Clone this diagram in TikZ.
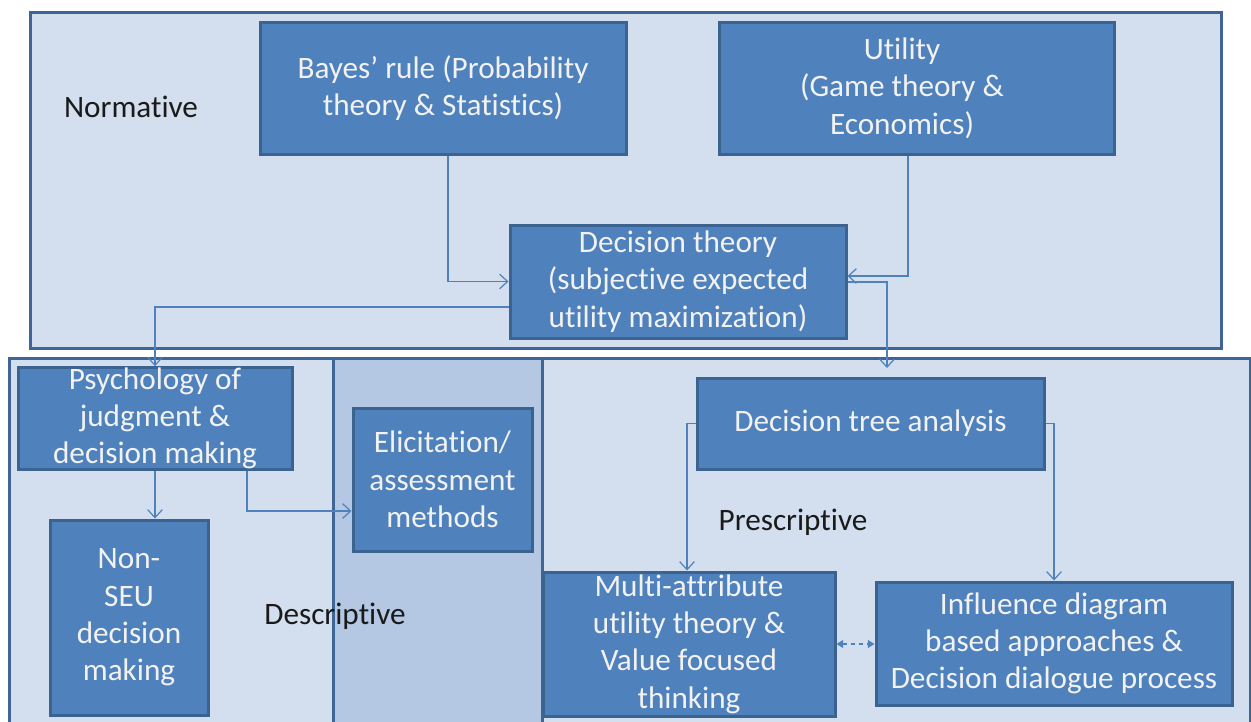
\documentclass[tikz,border=0pt]{standalone}
\usepackage{fontspec}
\setmainfont{Carlito}[Ligatures=NoCommon]
\usetikzlibrary{arrows.meta}
\definecolor{boxfill}{HTML}{4F81BD}
\definecolor{boxedge}{HTML}{3B6390}
\definecolor{panelfill}{HTML}{D3DFEE}
\definecolor{paneledge}{HTML}{3F6596}
\definecolor{colfill}{HTML}{B4C8E3}
\definecolor{linkc}{HTML}{4F81BD}
\definecolor{boxtext}{HTML}{F2F2F2}
\definecolor{lbltext}{HTML}{1A1A1A}
\begin{document}
\begin{tikzpicture}[x=0.75pt,y=-0.75pt,
  bigfont/.style={font=\fontsize{23.4}{28}\selectfont},
  box/.style={draw=boxedge,fill=boxfill,line width=2.25pt,text=boxtext,bigfont,align=center,inner sep=0pt},
  panel/.style={draw=paneledge,fill=panelfill,line width=2.25pt},
  colpanel/.style={draw=paneledge,fill=colfill,line width=2.25pt},
  lbl/.style={text=lbltext,bigfont,inner sep=0pt},
  link/.style={draw=linkc,line width=0.9pt,-{Straight Barb[length=6pt,width=11pt]}},
  dlink/.style={draw=linkc,line width=0.9pt,dash pattern=on 3pt off 3pt,{Triangle[length=5pt,width=6pt]}-{Triangle[length=5pt,width=6pt]}},
]
\useasboundingbox (0,0) rectangle (1251,721);
\clip (0,0) rectangle (1251,721);
\fill[white] (0,0) rectangle (1251,721);

% panels
\draw[panel] (30,12) rectangle (1221,348);
\draw[panel] (9,358) rectangle (1250,760);
\draw[colpanel] (333,358) rectangle (542,760);

% section labels
\node[lbl] (normlbl) at (131,107) {Normative};
\node[lbl] (desclbl) at (335,616) {Descriptive};
\node[lbl] (preslbl) at (793,522) {Prescriptive};

% boxes
\node[box,minimum width=274.5pt,minimum height=99pt] (bayes) at (443,88)
  {Bayes’ rule (Probability\\theory \& Statistics)};
\node[box,minimum width=296.25pt,minimum height=99pt] (util) at (916.5,88) {};
\node[text=boxtext,bigfont,align=center,inner sep=0pt] (utiltext) at (902,88)
  {Utility\\(Game theory \&\\Economics)};
\node[box,minimum width=252pt,minimum height=84.75pt] (dt) at (678,281.5)
  {Decision theory\\(subjective expected\\utility maximization)};
\node[box,minimum width=205.5pt,minimum height=75.75pt] (psych) at (155,418.5)
  {Psychology of\\judgment \&\\decision making};
\node[box,minimum width=134.25pt,minimum height=107.25pt] (elic) at (442.5,479.5)
  {Elicitation/\\assessment\\methods};
\node[box,minimum width=118.5pt,minimum height=146.25pt] (nonseu) at (129,617.5)
  {Non-\\SEU\\decision\\making};
\node[box,minimum width=260.25pt,minimum height=68.25pt] (tree) at (870.5,423.5)
  {Decision tree analysis};
\node[box,minimum width=219pt,minimum height=108pt] (multi) at (689,644)
  {Multi-attribute\\utility theory \&\\Value focused\\thinking};
\node[box,minimum width=267pt,minimum height=92.25pt] (infl) at (1054,643.5)
  {Influence diagram\\based approaches \&\\Decision dialogue process};

% connectors
\coordinate (treein) at (887,368);
\draw[link] ([xshift=3.75pt]bayes.south) |- (dt.west);
\draw[link] ([xshift=-6.375pt]util.south) |- ([yshift=4.125pt]dt.east);
\draw[link] ([yshift=-19.125pt]dt.west) -| (psych.north);
\draw[link] ([yshift=-0.375pt]dt.east) -| (treein);
\draw[link] (psych.south) -- (psych.south |- nonseu.north);
\draw[link] ([xshift=69pt]psych.south) |- ([yshift=-23.625pt]elic.west);
\draw[link] (tree.west) -| ([xshift=-1.5pt]multi.north);
\draw[link] (tree.east) -| (infl.north);
\draw[dlink] (multi.east) -- (multi.east -| infl.west);
\end{tikzpicture}
\end{document}
